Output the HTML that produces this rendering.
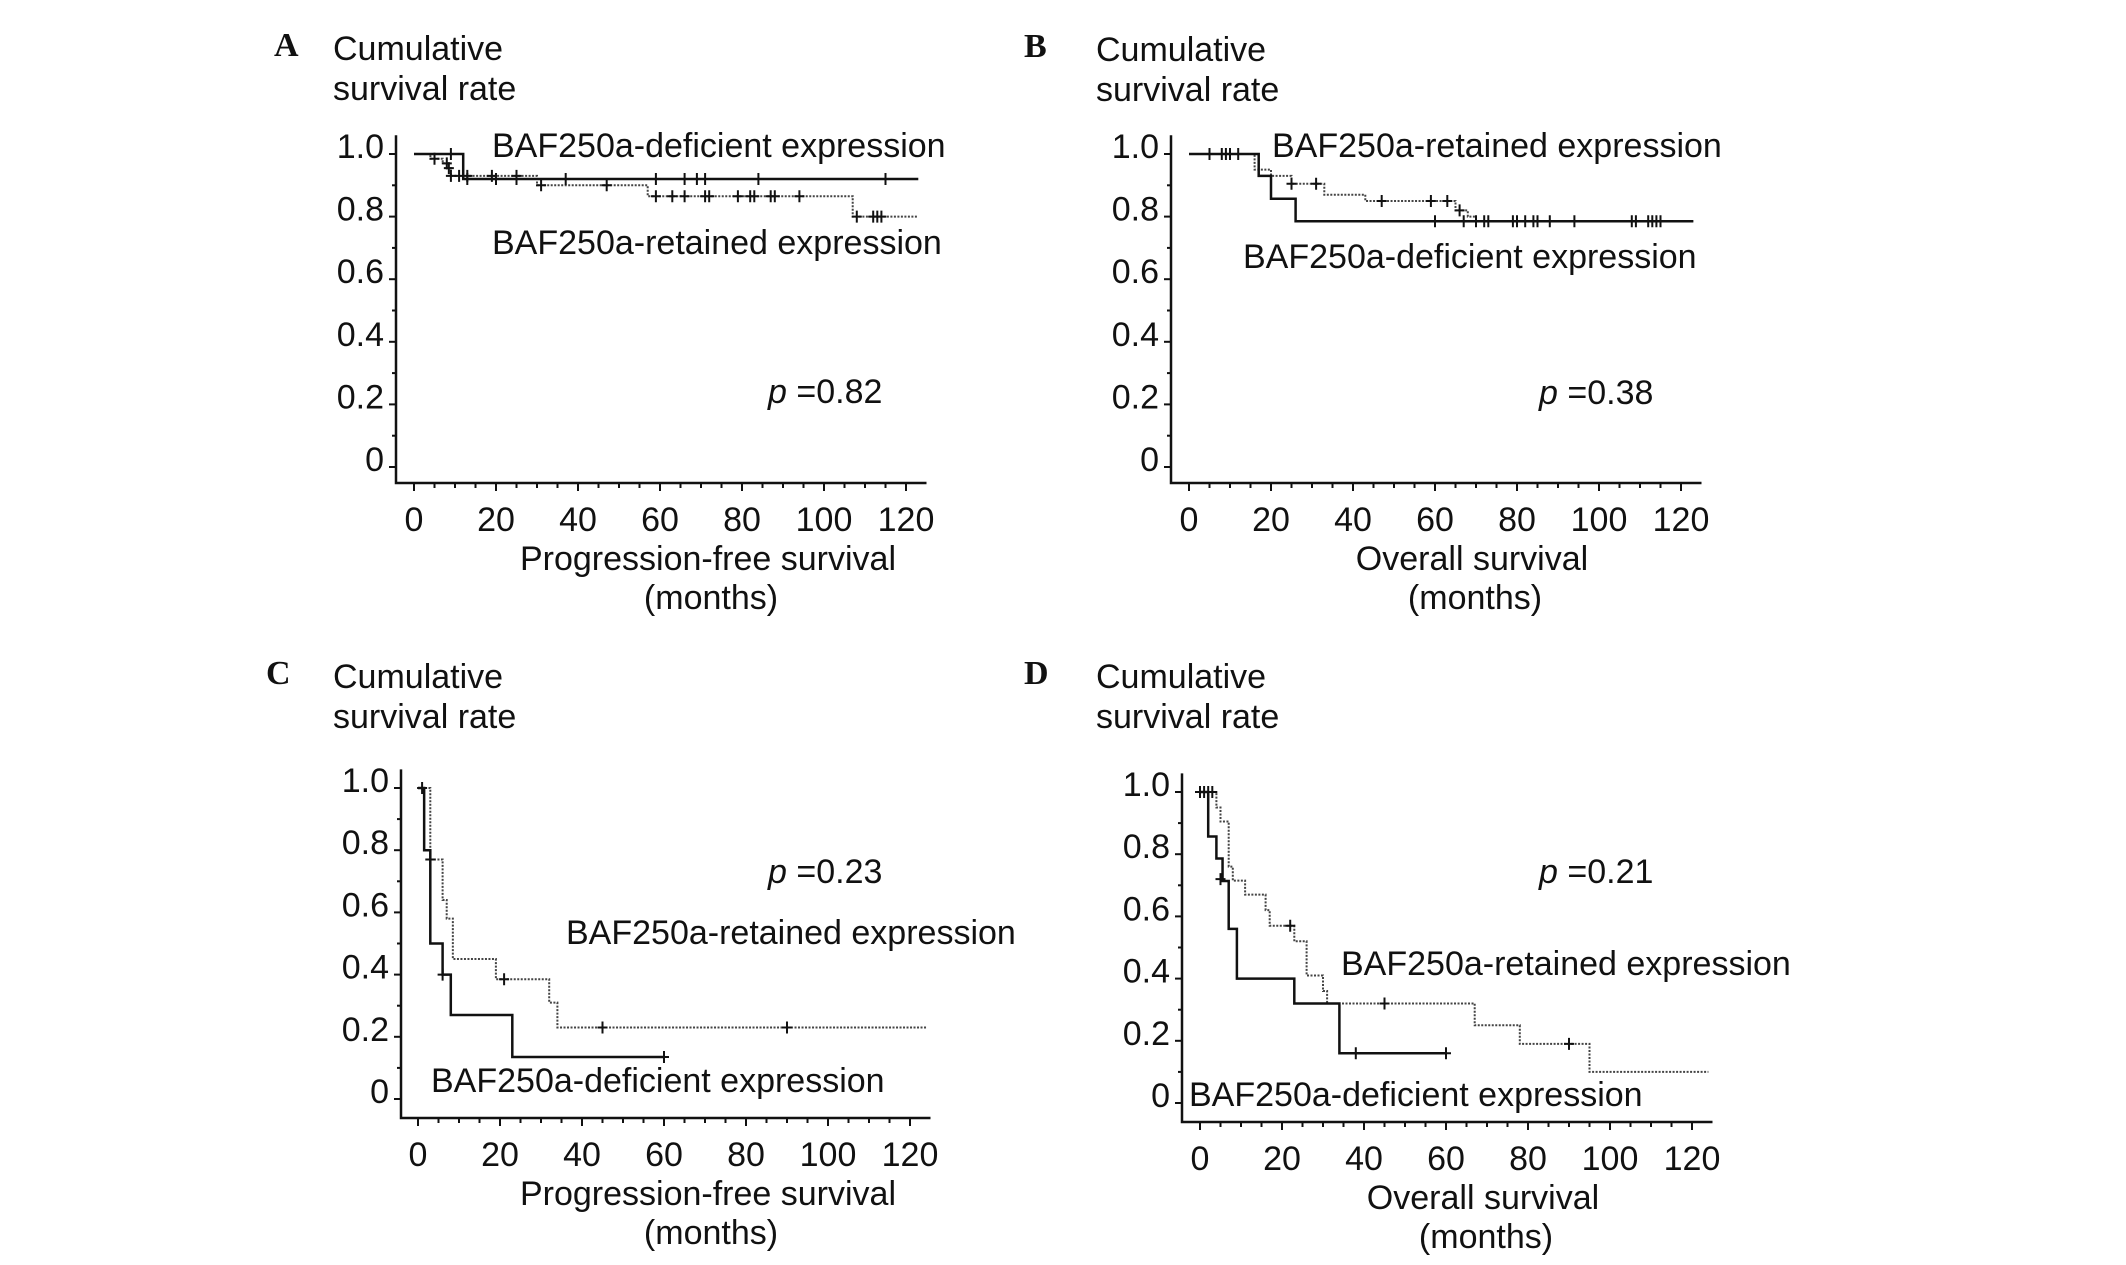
<!DOCTYPE html>
<html><head><meta charset="utf-8"><style>
html,body{margin:0;padding:0;background:#fff;}
svg{display:block;}
text{font-family:"Liberation Sans",Arial,sans-serif;fill:#111;}
.lt{font-family:"Liberation Serif",serif;font-weight:bold;font-size:34px;}
.t{font-size:34px;}
</style></head><body>
<svg id="fig" width="2126" height="1265" viewBox="0 0 2126 1265"></svg>
<script>
// Panel A: progression-free survival (all)
const aDefT=[0,12,123], aDefS=[1,0.92,0.92];
const aDefCT=[9,13,20,25,37,59,66,69,71,84,115], aDefCS=[1,0.92,0.92,0.92,0.92,0.92,0.92,0.92,0.92,0.92,0.92];
const aRetT=[0,4,7,8,9,30,57,107,123], aRetS=[1,0.985,0.97,0.955,0.93,0.90,0.865,0.80,0.80];
const aRetCT=[5,8,8.5,9,11,13,19,25,31,47,59,63,66,71,72,79,82,83,87,88,94,108,112,113,114];
const aRetCS=[0.985,0.97,0.955,0.93,0.93,0.93,0.93,0.93,0.90,0.90,0.865,0.865,0.865,0.865,0.865,0.865,0.865,0.865,0.865,0.865,0.865,0.80,0.80,0.80,0.80];
// Panel B: overall survival (all)
const bDefT=[0,17,20,26,123], bDefS=[1,0.93,0.857,0.785,0.785];
const bDefCT=[60,67,70,72,73,79,80,82,84,85,88,94,108,109,112,113,114,115];
const bDefCS=[0.785,0.785,0.785,0.785,0.785,0.785,0.785,0.785,0.785,0.785,0.785,0.785,0.785,0.785,0.785,0.785,0.785,0.785];
const bRetT=[0,16,20,25,33,43,65,68,70,123], bRetS=[1,0.95,0.93,0.905,0.87,0.85,0.82,0.80,0.785,0.785];
const bRetCT=[5,8,9,10,12,25,31,47,59,63,66], bRetCS=[1,1,1,1,1,0.905,0.905,0.85,0.85,0.85,0.82];
// Panel C: progression-free survival (subgroup)
const cDefT=[0,1.5,3,6,8,23,60], cDefS=[1,0.80,0.50,0.40,0.27,0.135,0.135];
const cDefCT=[1,6,60], cDefCS=[1,0.40,0.135];
const cRetT=[0,3,6,7,8.5,19,32,34,124], cRetS=[1,0.77,0.64,0.58,0.45,0.385,0.31,0.23,0.23];
const cRetCT=[3,21,45,90], cRetCS=[0.77,0.385,0.23,0.23];
// Panel D: overall survival (subgroup)
const dDefT=[0,2,4,5.5,7,9,23,34,60], dDefS=[1,0.857,0.786,0.714,0.56,0.40,0.32,0.16,0.16];
const dDefCT=[0,2,5,38,60], dDefCS=[1,1,0.72,0.16,0.16];
const dRetT=[0,4,5,7,8,11,16,17,23,26,30,31,67,78,95,124];
const dRetS=[1,0.95,0.905,0.76,0.715,0.67,0.62,0.57,0.52,0.41,0.36,0.32,0.25,0.19,0.10,0.10];
const dRetCT=[1,3,22,45,90], dRetCS=[1,1,0.57,0.32,0.19];
const xTicks=[0,20,40,60,80,100,120];
const yTicks=[0,0.2,0.4,0.6,0.8,1.0];
const yTickLabels=["0","0.2","0.4","0.6","0.8","1.0"];

const NS="http://www.w3.org/2000/svg";
const svg=document.getElementById('fig');
function mk(tag,attrs,parent){const e=document.createElementNS(NS,tag);for(const k in attrs)e.setAttribute(k,attrs[k]);(parent||svg).appendChild(e);return e;}
function txt(s,x,y,cls,anchor,parent){const e=mk('text',{x:x,y:y,class:cls,'text-anchor':anchor||'start'},parent);e.textContent=s;return e;}

const panels=[
 {id:'a',letter:'A',lx:274,ly:56,x0:414,y1:154,y0:467,axL:396,axB:483,xlab:'Progression-free survival',xlc:708,
  def:[aDefT,aDefS,aDefCT,aDefCS],ret:[aRetT,aRetS,aRetCT,aRetCS],
  defLab:[492,157],retLab:[492,254],p:['0.82',768,403]},
 {id:'b',letter:'B',lx:1024,ly:57,x0:1189,y1:154,y0:467,axL:1171,axB:483,xlab:'Overall survival',xlc:1472,
  def:[bDefT,bDefS,bDefCT,bDefCS],ret:[bRetT,bRetS,bRetCT,bRetCS],
  defLab:[1243,268],retLab:[1272,157],p:['0.38',1539,404]},
 {id:'c',letter:'C',lx:266,ly:684,x0:418,y1:788,y0:1099,axL:401,axB:1118,xlab:'Progression-free survival',xlc:708,
  def:[cDefT,cDefS,cDefCT,cDefCS],ret:[cRetT,cRetS,cRetCT,cRetCS],
  defLab:[431,1092],retLab:[566,944],p:['0.23',768,883]},
 {id:'d',letter:'D',lx:1024,ly:684,x0:1200,y1:792,y0:1103,axL:1182,axB:1122,xlab:'Overall survival',xlc:1483,
  def:[dDefT,dDefS,dDefCT,dDefCS],ret:[dRetT,dRetS,dRetCT,dRetCS],
  defLab:[1189,1106],retLab:[1341,975],p:['0.21',1539,883]}
];

panels.forEach(P=>{
  const g=mk('g',{});
  
  
  const X=m=>P.x0+m*4.1;
  const Y=v=>P.y0-(P.y0-P.y1)*v;
  const L=txt(P.letter,P.lx,P.ly,'lt','start',g);
  
  
  const cx=P.letter==='A'||P.letter==='C'?333:1096;
  const yt1=txt('Cumulative',cx,P.ly+4,'t','start',g);
  
  
  const yt2=txt('survival rate',cx,P.ly+44,'t','start',g);
  
  
  const right=X(125);
  const ax=mk('path',{d:`M${P.axL} ${Y(1.06)} V${P.axB} H${right}`,fill:'none',stroke:'#111','stroke-width':2.5},g);
  
  
  for(let v=0;v<=10;v++){
    const major=v%2===0;
    mk('line',{x1:P.axL-(major?7:4),x2:P.axL,y1:Y(v/10),y2:Y(v/10),stroke:'#111','stroke-width':2},g);
  }
  yTicks.forEach((v,i)=>{
    const t=txt(yTickLabels[i],P.axL-12,Y(v)+4,'t','end',g);
    
    
  });
  for(let m=0;m<=120;m+=5){
    const major=m%20===0;
    mk('line',{x1:X(m),x2:X(m),y1:P.axB,y2:P.axB+(major?8:5),stroke:'#111','stroke-width':2},g);
  }
  xTicks.forEach(m=>{
    const t=txt(String(m),X(m),P.axB+48,'t','middle',g);
    
    
  });
  const xl=txt(P.xlab,P.xlc,P.axB+87,'t','middle',g);
  
  
  const xm=txt('(months)',P.xlc+3,P.axB+126,'t','middle',g);
  
  
  function curve(arr,name,dashed){
    const [T,S,CT,CS]=arr;
    let d=`M${X(T[0])} ${Y(S[0])}`;
    for(let i=1;i<T.length;i++){d+=` H${X(T[i])} V${Y(S[i])}`;}
    const p=mk('path',{d:d,fill:'none',stroke:dashed?'#444':'#111','stroke-width':dashed?2:2.5,'stroke-dasharray':dashed?'2,1.5':'none'},g);
    
    
    CT.forEach((t,i)=>{
      const c=mk('path',{d:`M${X(t)-5} ${Y(CS[i])} h10 M${X(t)} ${Y(CS[i])-6} v12`,stroke:'#111','stroke-width':2},g);
      
      
    });
  }
  curve(P.ret,'retained',true);
  curve(P.def,'deficient',false);
  const dl=txt('BAF250a-deficient expression',P.defLab[0],P.defLab[1],'t','start',g);
  
  
  const rl=txt('BAF250a-retained expression',P.retLab[0],P.retLab[1],'t','start',g);
  
  
  const pv=mk('text',{x:P.p[1],y:P.p[2],class:'t'},g);
  
  
  const pi=mk('tspan',{'font-style':'italic'},pv);pi.textContent='p';
  const pr=mk('tspan',{},pv);pr.textContent=' =' + P.p[0];
});
</script>
</body></html>
